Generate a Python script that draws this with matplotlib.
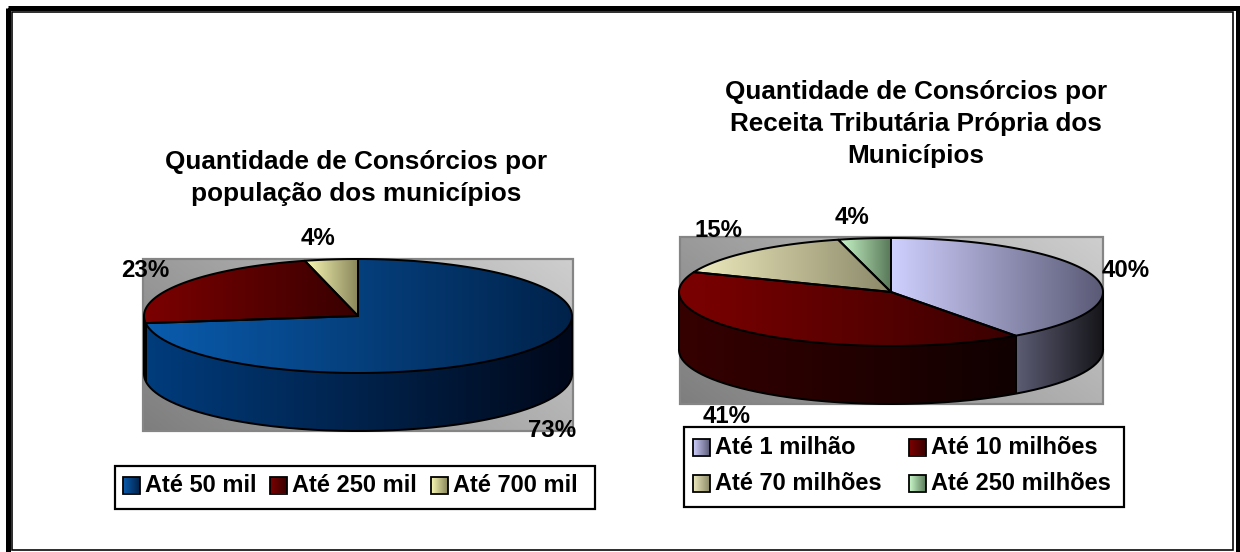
import numpy as np
import matplotlib
matplotlib.use('Agg')
import matplotlib.pyplot as plt
from matplotlib.patches import Polygon, Rectangle
from matplotlib.colors import LinearSegmentedColormap

# ---------------- data ----------------
pop_title = 'Quantidade de Consórcios por\npopulação dos municípios'
pop_labels = ['Até 50 mil', 'Até 250 mil', 'Até 700 mil']
pop_values = [73, 23, 4]

rec_title = 'Quantidade de Consórcios por\nReceita Tributária Própria dos\nMunicípios'
rec_labels = ['Até 1 milhão', 'Até 10 milhões', 'Até 70 milhões', 'Até 250 milhões']
rec_values = [40, 41, 15, 4]

# ---------------- styles ----------------
FONT = 'Liberation Sans'
pop_top = [('#0a5cae', '#00224a'), ('#7c0000', '#380000'), ('#fafab4', '#88845a')]
pop_side = [('#003c7c', '#00081a'), ('#3c0000', '#140000'), ('#8a8660', '#3a3826')]
rec_top = [('#d0d0ff', '#5a5a76'), ('#7c0000', '#3a0000'), ('#eeeabe', '#8a8868'), ('#ccfacc', '#587858')]
rec_side = [('#5c5c74', '#141418'), ('#360000', '#100000'), ('#8a8868', '#3a3a2c'), ('#587858', '#203020')]

W, H = 1240, 552
fig = plt.figure(figsize=(W / 100, H / 100), dpi=100)
ax = fig.add_axes([0, 0, 1, 1])
ax.set_xlim(0, W)
ax.set_ylim(H, 0)
ax.axis('off')

PX = 0.72  # points per pixel


def grad_fill(patch, c1, c2, z, direction='h'):
    v = np.asarray(patch.get_xy())
    x0, x1 = v[:, 0].min(), v[:, 0].max()
    y0, y1 = v[:, 1].min(), v[:, 1].max()
    g = np.linspace(0, 1, 256)
    img = g[None, :] if direction == 'h' else g[:, None]
    cmap = LinearSegmentedColormap.from_list('g', [c1, c2])
    im = ax.imshow(img, cmap=cmap, extent=(x0, x1, y1, y0), aspect='auto',
                   zorder=z, interpolation='bilinear', vmin=0, vmax=1)
    patch.set_facecolor('none')
    patch.set_edgecolor('none')
    ax.add_patch(patch)
    im.set_clip_path(patch)


def rect_poly(x, y, w, h):
    return Polygon([[x, y], [x + w, y], [x + w, y + h], [x, y + h]], closed=True)


def plot_area(x0, y0, x1, y1):
    nx, ny = 200, 100
    xx, yy = np.meshgrid(np.linspace(0, 1, nx), np.linspace(0, 1, ny))
    img = 0.65 * xx + 0.35 * (1 - yy)
    cmap = LinearSegmentedColormap.from_list('gray', ['#7e7e7e', '#cecece'])
    ax.imshow(img, cmap=cmap, extent=(x0, x1, y1, y0), aspect='auto', zorder=1,
              interpolation='bilinear', vmin=0, vmax=1)
    ax.add_patch(Rectangle((x0, y0), x1 - x0, y1 - y0, fill=False,
                           edgecolor='#858585', lw=2.2 * PX, zorder=2))


def pie3d(values, cx, cy, a, b, depth, tops, sides):
    total = float(sum(values))
    bounds = np.concatenate([[0], np.cumsum(values)]) / total * 360.0

    def pt(t, dy=0.0):
        r = np.radians(t)
        return np.column_stack([cx + a * np.sin(r), cy - b * np.cos(r) + dy])

    for i in range(len(values)):
        t1, t2 = max(bounds[i], 90), min(bounds[i + 1], 270)
        if t2 > t1:
            ts = np.linspace(t1, t2, 120)
            poly = np.vstack([pt(ts), pt(ts[::-1], depth)])
            grad_fill(Polygon(poly, closed=True), sides[i][0], sides[i][1], 3)
            for tb in (t1, t2):
                p = pt(np.array([tb]))[0]
                ax.plot([p[0], p[0]], [p[1], p[1] + depth], color='black',
                        lw=2.0 * PX, zorder=6, solid_capstyle='butt')
    ts = np.linspace(90, 270, 300)
    bot = pt(ts, depth)
    ax.plot(bot[:, 0], bot[:, 1], color='black', lw=2.0 * PX, zorder=6)

    for i in range(len(values)):
        ts = np.linspace(bounds[i], bounds[i + 1], 200)
        poly = np.vstack([[cx, cy], pt(ts)])
        grad_fill(Polygon(poly, closed=True), tops[i][0], tops[i][1], 4)
        ax.add_patch(Polygon(poly, closed=True, fill=False, edgecolor='black',
                             lw=2.0 * PX, zorder=6, joinstyle='round'))


def title(text, x, y0, step, size):
    for k, line in enumerate(text.split('\n')):
        ax.text(x, y0 + k * step, line, ha='center', va='baseline',
                fontsize=size, fontweight='bold', family=FONT, zorder=10)


def legend(labels, colors, box, positions):
    x0, y0, x1, y1 = box
    ax.add_patch(Rectangle((x0, y0), x1 - x0, y1 - y0, facecolor='white',
                           edgecolor='black', lw=2.2 * PX, zorder=7))
    for lab, col, (sx, sy) in zip(labels, colors, positions):
        grad_fill(rect_poly(sx, sy - 8.5, 17, 17), col[0], col[1], 8)
        ax.add_patch(Rectangle((sx, sy - 8.5), 17, 17, fill=False,
                               edgecolor='black', lw=1.8 * PX, zorder=9))
        ax.text(sx + 22, sy + 7, lab, ha='left', va='baseline', fontsize=17,
                fontweight='bold', family=FONT, zorder=10)


def pct_labels(values, positions):
    total = float(sum(values))
    for v, (x, y) in zip(values, positions):
        ax.text(x, y, f'{round(v / total * 100):.0f}%', ha='center', va='baseline',
                fontsize=17.3, fontweight='bold', family=FONT, zorder=10)


# ---------------- outer double border ----------------
ax.add_patch(Rectangle((7.5, 7.5), 1230, 548, fill=False, edgecolor='black',
                       lw=5 * PX, zorder=20))
ax.add_patch(Rectangle((11.5, 11.5), 1221, 538.5, fill=False, edgecolor='black',
                       lw=1.6 * PX, zorder=20))

# ---------------- left chart ----------------
title(pop_title, 356, 169, 32, 18.8)
plot_area(143, 259, 573, 431)
pie3d(pop_values, 358, 316, 214, 57, 58, pop_top, pop_side)
pct_labels(pop_values, [(552, 437), (145, 277), (318, 245)])
legend(pop_labels, pop_top, (115, 466, 595, 509),
       [(123, 485), (270, 485), (431, 485)])

# ---------------- right chart ----------------
title(rec_title, 916, 99, 32, 18.8)
plot_area(680, 237, 1103, 404)
pie3d(rec_values, 891, 292, 212, 54, 58, rec_top, rec_side)
pct_labels(rec_values, [(1126, 277), (727, 423), (719, 237), (852, 224)])
legend(rec_labels, rec_top, (684, 427, 1124, 507),
       [(693, 447), (909, 447), (693, 483), (909, 483)])

ax.set_xlim(0, W)
ax.set_ylim(H, 0)
fig.savefig('out.png', dpi=100)
